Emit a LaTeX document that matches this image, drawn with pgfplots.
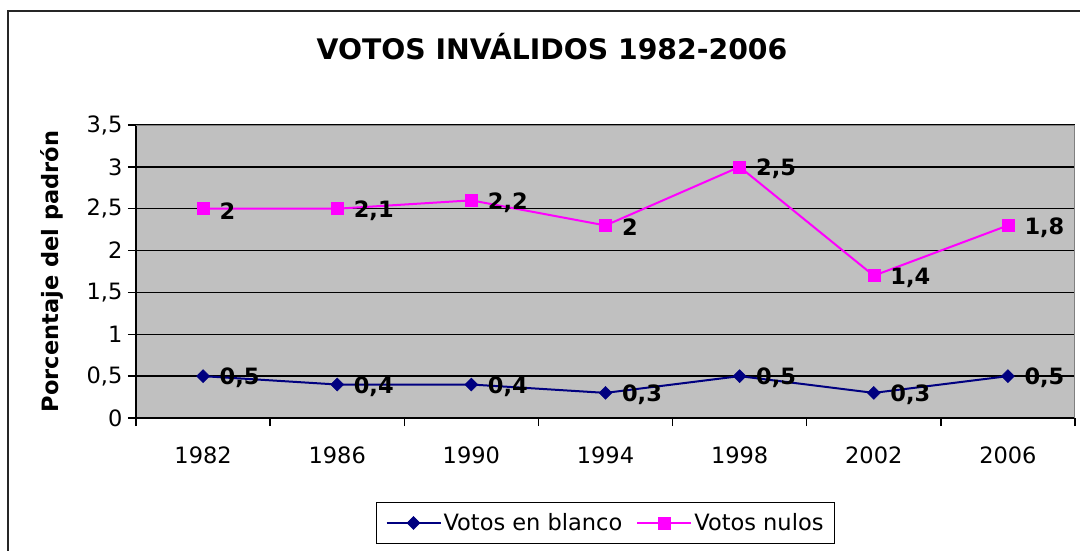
\documentclass[border=0pt]{standalone}
\usepackage{fontspec}
\setmainfont{DejaVu Sans}
\usepackage{pgfplots}
\usepackage{pgfplotstable}
\pgfplotsset{compat=1.18}
\definecolor{plotgray}{HTML}{C0C0C0}
\definecolor{navyb}{HTML}{000080}
\definecolor{magn}{HTML}{FF00FF}
\pgfplotstableread{
x blanco nulos
0 0.5 2
1 0.4 2.1
2 0.4 2.2
3 0.3 2
4 0.5 2.5
5 0.3 1.4
6 0.5 1.8
}\datatable
\begin{document}
\begin{tikzpicture}[x=1pt,y=1pt]
\useasboundingbox (0,0) rectangle (1080,550);
\draw[line width=2pt, black!85] (8,-10) -- (8,539) -- (1095,539);
\node[font=\fontsize{28.3}{33}\selectfont\bfseries] at (552,503) {VOTOS INVÁLIDOS 1982-2006};
\begin{axis}[
  at={(136pt,132pt)}, anchor=south west,
  scale only axis, width=939pt, height=293pt,
  xmin=-0.5, xmax=6.5, ymin=0, ymax=3.5,
  stack plots=y,
  axis background/.style={fill=plotgray},
  axis lines*=left,
  axis line style={line width=1.3pt, black},
  tick align=outside,
  xtick={0,...,6},
  xticklabels={1982,1986,1990,1994,1998,2002,2006},
  minor xtick={-0.5,0.5,...,6.5},
  major x tick style={draw=none},
  minor x tick style={line width=1.3pt, black},
  minor tick length=8pt,
  ytick={0,0.5,...,3.5},
  y tick style={line width=1.3pt, black},
  major tick length=8pt,
  ymajorgrids,
  major grid style={line width=1.3pt, black},
  /pgf/number format/use comma,
  /pgf/number format/assume math mode=true,
  ticklabel style={font=\fontsize{22.5}{27}\selectfont},
  xticklabel style={yshift=-17pt},
  yticklabel style={xshift=-2pt},
  ylabel={Porcentaje del padrón},
  every axis y label/.style={at={(axis description cs:-0.0895,0.5)}, rotate=90, anchor=center, font=\fontsize{22.5}{27}\selectfont\bfseries},
  nodes near coords,
  point meta=explicit,
  every node near coord/.append style={font=\fontsize{22.5}{27}\selectfont\bfseries, anchor=west, xshift=13pt, yshift=-2pt, black},
  legend columns=2,
  legend style={at={(0.5,-0.2867)}, anchor=north, draw=black, line width=1.3pt,
    font=\fontsize{22.5}{27}\selectfont, /tikz/every even column/.append style={column sep=12pt},
    inner sep=9pt, row sep=2pt},
  legend image code/.code={\draw[mark repeat=2,mark phase=2] plot coordinates {(0pt,0pt) (27pt,0pt) (54pt,0pt)};},
]
\addplot[navyb, line width=2pt, mark=diamond*, mark size=6.5pt, mark options={solid, fill=navyb, line width=0.5pt, xscale=1.33}]
  table[x=x, y=blanco, meta=blanco] {\datatable};
\addlegendentry{Votos en blanco}
\addplot[magn, line width=2pt, mark=square*, mark size=6pt, mark options={solid, fill=magn, line width=0.5pt}]
  table[x=x, y=nulos, meta=nulos] {\datatable};
\addlegendentry{Votos nulos}
\draw[gray, line width=1.5pt] (rel axis cs:0,1) -- (rel axis cs:1,1) -- (rel axis cs:1,0);
\end{axis}
\end{tikzpicture}
\end{document}
